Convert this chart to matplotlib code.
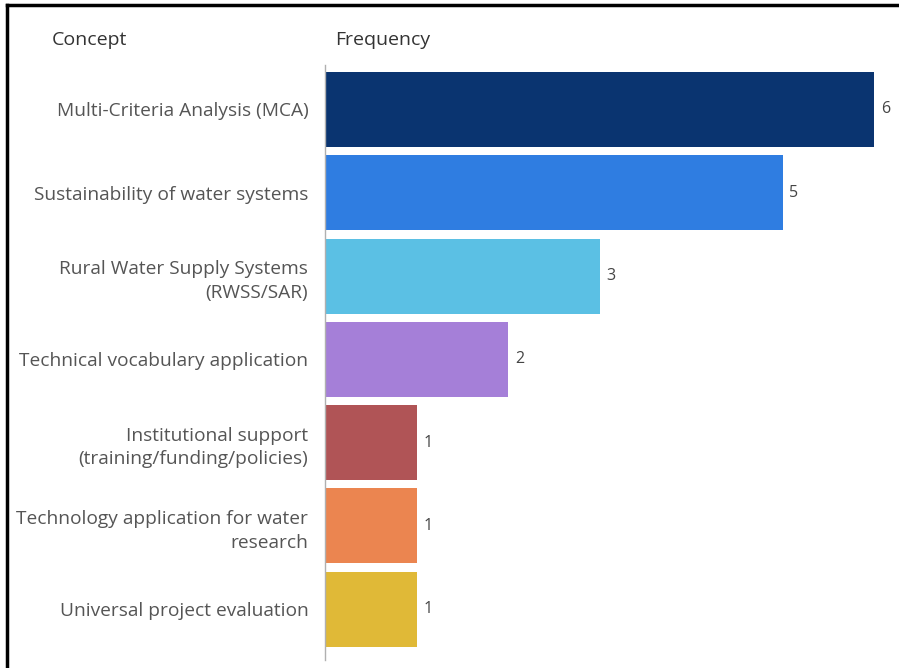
import matplotlib
matplotlib.use("Agg")
import matplotlib.pyplot as plt
from matplotlib.lines import Line2D

concepts = [
    "Multi-Criteria Analysis (MCA)",
    "Sustainability of water systems",
    "Rural Water Supply Systems\n(RWSS/SAR)",
    "Technical vocabulary application",
    "Institutional support\n(training/funding/policies)",
    "Technology application for water\nresearch",
    "Universal project evaluation",
]
frequency = [6, 5, 3, 2, 1, 1, 1]
colors = ["#0a3470", "#2f7de1", "#5bc0e4", "#a57fd8", "#b05456", "#eb8550", "#e0b937"]

plt.rcParams['font.family'] = ['Open Sans', 'DejaVu Sans']

fig = plt.figure(figsize=(8.99, 6.68), dpi=100)
ax = fig.add_axes([325 / 899, 8 / 668, 555 / 899, 595 / 668])

ypos = list(range(len(concepts)))
bars = ax.barh(ypos, frequency, height=0.9, color=colors)
ax.set_xlim(0, 555 / 91.5)
ax.set_ylim(6.609, -0.534)

ax.set_yticks(ypos)
ax.set_yticklabels(concepts, fontsize=13.8, color="#555555", linespacing=1.4)
ax.tick_params(axis="y", length=0, pad=12)
ax.set_xticks([])
for s in ["top", "right", "bottom"]:
    ax.spines[s].set_visible(False)
ax.spines["left"].set_color("#b0b0b0")
ax.spines["left"].set_linewidth(1)

for b, v in zip(bars, frequency):
    ax.annotate(str(v), (b.get_width(), b.get_y() + b.get_height() / 2),
                xytext=(5, 0), textcoords="offset points",
                va="center", ha="left", fontsize=11.5, color="#444444")

fig.text(52 / 899, 1 - 40 / 668, "Concept", fontsize=14, color="#333333", va="center", ha="left")
fig.text(335 / 899, 1 - 40 / 668, "Frequency", fontsize=14, color="#333333", va="center", ha="left")

# frame on left and top edges
fig.add_artist(Line2D([7 / 899, 7 / 899], [0, 1 - 5 / 668], color="black", lw=2.5, transform=fig.transFigure))
fig.add_artist(Line2D([7 / 899, 1], [1 - 5 / 668, 1 - 5 / 668], color="black", lw=2.5, transform=fig.transFigure))

fig.savefig("out.png", dpi=100)
